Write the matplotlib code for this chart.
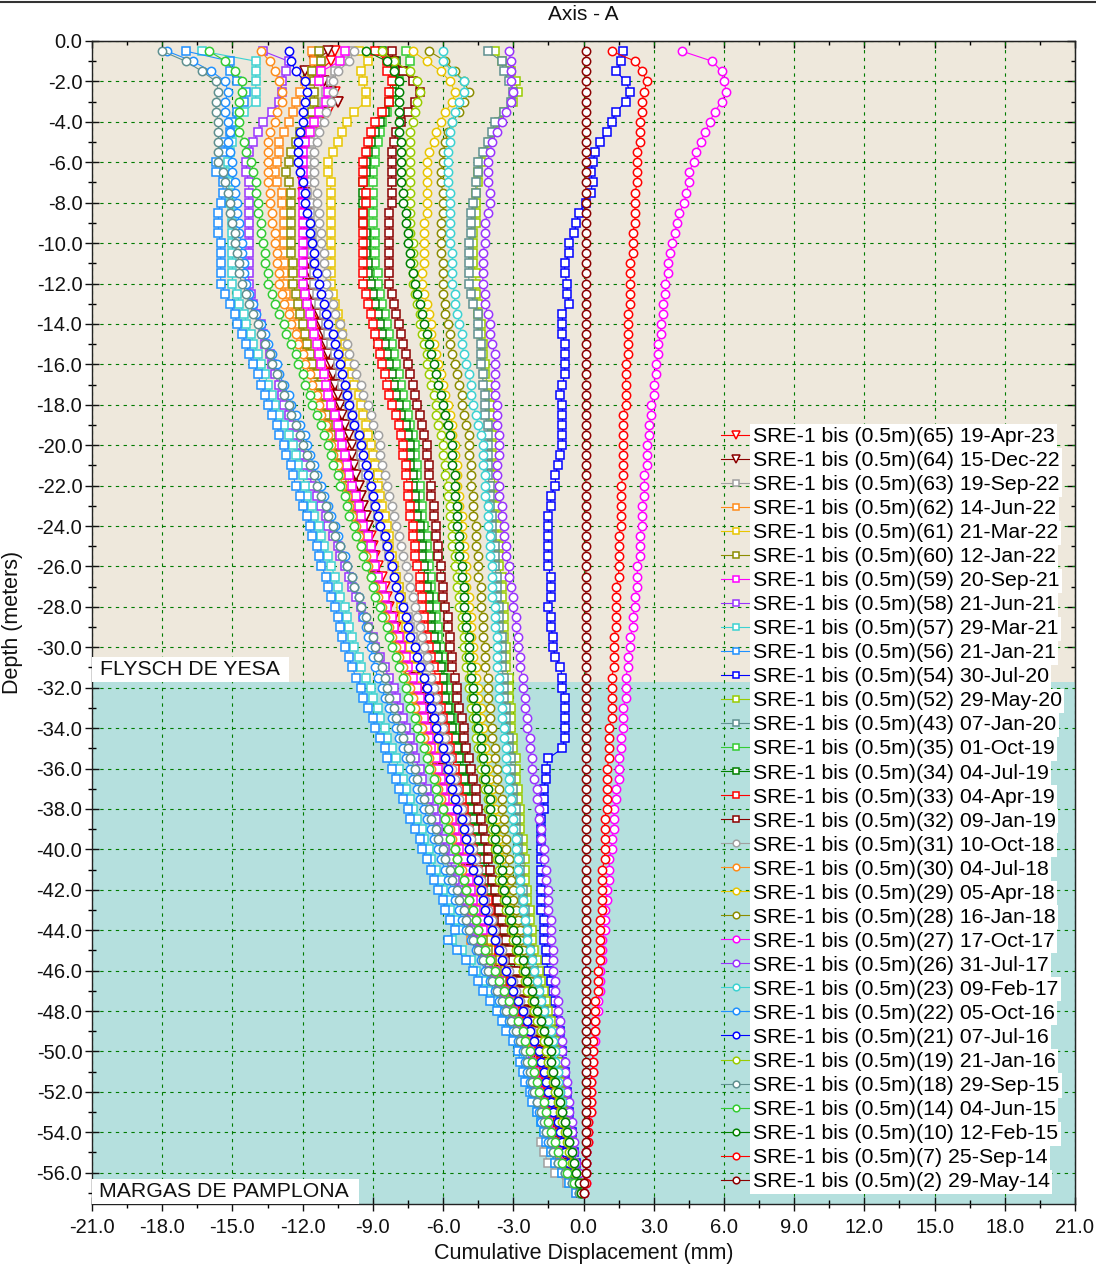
import numpy as np
import matplotlib
matplotlib.use('Agg')
import matplotlib.pyplot as plt
from matplotlib.patches import Rectangle
from matplotlib.lines import Line2D
from matplotlib.ticker import MultipleLocator, FormatStrFormatter

plt.rcParams['font.family'] = ['Liberation Sans', 'DejaVu Sans']

# ---------------- data ----------------
DEPTH = np.arange(-0.5, -57.01, -0.5)  # reading depths (m), 114 readings

S65 = [-10.6,-10.8,-11.3,-11.2,-10.6,-10.5,-10.9,-11.3,-11.6,-11.8,-12.0,-12.0,
       -12.0,-12.0,-12.0,-12.0,-11.9,-11.9,-11.9,-11.8,-11.8,-11.8,-11.7,-11.7,
       -11.6,-11.5,-11.4,-11.3,-11.2,-11.1,-11.0,-10.9,-10.8,-10.7,-10.6,-10.5,-10.4,-10.3,-10.2,-10.1,
       -10.0,-9.9,-9.8,-9.6,-9.5,-9.4,-9.3,-9.2,-9.1,-9.0,-8.9,-8.8,-8.6,-8.5,-8.4,-8.3,-8.1,-8.0,-7.8,-7.7,-7.5,-7.4,-7.2,-7.1,
       -7.0,-6.9,-6.8,-6.6,-6.5,-6.4,-6.3,-6.2,-6.0,-5.9,-5.8,-5.7,-5.6,-5.4,-5.3,-5.2,-5.1,-5.0,-4.8,-4.7,-4.6,-4.5,-4.4,-4.2,
       -4.1,-3.9,-3.7,-3.6,-3.4,-3.2,-3.0,-2.8,-2.7,-2.5,-2.3,-2.1,
       -2.0,-1.9,-1.8,-1.6,-1.5,-1.4,-1.3,-1.1,-1.0,-0.9,-0.7,-0.5,-0.3,-0.1]
S64 = [-10.9,-11.5,-11.9,-11.1,-10.8,-10.5,-11.2,-11.5,-11.7,-11.9,-12.0,-12.0,
       -12.0,-12.0,-11.9,-11.9,-11.8,-11.8,-11.8,-11.7,-11.7,-11.7,-11.7,-11.7,
       -11.6,-11.5,-11.3,-11.2,-11.1,-11.0,-10.9,-10.8,-10.7,-10.6,-10.5,-10.4,-10.3,-10.2,-10.0,-9.9,
       -9.9,-9.8,-9.7,-9.6,-9.5,-9.4,-9.3,-9.2,-9.2,-9.1,-9.0,-9.0,-8.9,-8.8,-8.6,-8.4,-8.3,-8.1,-8.0,-7.8,-7.6,-7.4,-7.2,-7.0,
       -6.9,-6.8,-6.7,-6.6,-6.5,-6.4,-6.2,-6.1,-6.0,-5.9,-5.8,-5.6,-5.5,-5.4,-5.3,-5.2,-5.0,-4.9,-4.8,-4.7,-4.6,-4.4,-4.3,-4.2,
       -4.0,-3.9,-3.7,-3.5,-3.3,-3.2,-3.0,-2.8,-2.7,-2.5,-2.3,-2.1,
       -2.0,-1.9,-1.7,-1.6,-1.5,-1.4,-1.2,-1.1,-1.0,-0.8,-0.7,-0.5,-0.3,-0.1]
S63 = [-9.9,-10.2,-10.6,-10.8,-11.0,-11.1,-11.3,-11.4,-11.6,-11.7,-11.7,-11.8,
       -11.8,-11.8,-11.8,-11.7,-11.7,-11.7,-11.6,-11.6,-11.6,-11.5,-11.5,-11.5,
       -11.4,-11.3,-11.1,-11.0,-10.9,-10.8,-10.6,-10.5,-10.4,-10.3,-10.1,-10.0,-9.9,-9.8,-9.6,-9.5,
       -9.5,-9.4,-9.3,-9.1,-9.0,-8.9,-8.8,-8.7,-8.5,-8.4,-8.3,-8.2,-8.0,-7.9,-7.8,-7.7,-7.5,-7.4,-7.3,-7.2,-7.0,-6.9,-6.8,-6.6,
       -6.5,-6.4,-6.3,-6.2,-6.1,-6.0,-5.9,-5.8,-5.7,-5.5,-5.4,-5.3,-5.2,-5.1,-5.0,-4.9,-4.8,-4.7,-4.6,-4.5,-4.3,-4.2,-4.1,-4.0,
       -4.3,-4.0,-3.7,-3.5,-3.3,-3.1,-3.0,-2.8,-2.6,-2.4,-2.3,-2.1,
       -2.0,-1.9,-1.8,-1.7,-1.6,-1.5,-1.5,-1.4,-1.8,-1.7,-1.5,-1.2,-0.7,-0.3]
S62 = [-11.6,-11.5,-11.6,-11.9,-12.1,-12.3,-12.4,-12.6,-12.8,-13.0,-13.0,-13.1,
       -13.2,-13.1,-12.9,-12.9,-12.8,-12.8,-12.8,-12.8,-12.8,-12.8,-12.8,-12.8,
       -12.7,-12.5,-12.4,-12.2,-12.1,-11.9,-11.8,-11.6,-11.5,-11.3,-11.2,-11.0,-10.9,-10.7,-10.6,-10.5,
       -10.4,-10.3,-10.1,-10.0,-9.9,-9.7,-9.6,-9.5,-9.3,-9.2,-9.1,-9.0,-8.8,-8.7,-8.6,-8.4,-8.3,-8.1,-8.0,-7.8,-7.7,-7.5,-7.4,-7.2,
       -7.1,-7.0,-6.9,-6.8,-6.6,-6.5,-6.4,-6.3,-6.2,-6.1,-5.9,-5.8,-5.7,-5.6,-5.5,-5.4,-5.2,-5.1,-5.0,-4.9,-4.8,-4.7,-4.5,-4.4,
       -4.8,-4.4,-4.1,-3.9,-3.7,-3.5,-3.3,-3.1,-2.9,-2.7,-2.5,-2.2,
       -2.1,-2.0,-1.9,-1.8,-1.7,-1.6,-1.4,-1.3,-1.2,-1.3,-1.0,-0.7,-0.4,-0.1]
S61 = [-9.6,-9.2,-9.5,-9.4,-9.3,-9.3,-9.8,-10.1,-10.3,-10.5,-10.7,-10.9,
       -10.9,-10.8,-10.8,-10.8,-10.8,-10.8,-10.8,-10.8,-10.8,-10.8,-10.8,-10.8,
       -10.7,-10.6,-10.5,-10.4,-10.3,-10.2,-10.1,-10.0,-9.9,-9.8,-9.6,-9.5,-9.4,-9.3,-9.2,-9.1,
       -9.0,-8.9,-8.8,-8.8,-8.7,-8.6,-8.5,-8.4,-8.3,-8.3,-8.2,-8.1,-8.0,-7.9,-7.8,-7.8,-7.7,-7.6,-7.5,-7.4,-7.3,-7.2,-7.1,-7.1,
       -7.0,-6.9,-6.8,-6.6,-6.5,-6.4,-6.3,-6.2,-6.0,-5.9,-5.8,-5.7,-5.6,-5.4,-5.3,-5.2,-5.1,-5.0,-4.8,-4.7,-4.6,-4.5,-4.4,-4.2,
       -4.1,-3.9,-3.7,-3.5,-3.3,-3.2,-3.0,-2.8,-2.6,-2.5,-2.3,-2.1,
       -2.0,-1.9,-1.8,-1.6,-1.5,-1.4,-1.3,-1.1,-1.0,-0.9,-0.7,-0.5,-0.4,-0.2]
S60 = [-11.3,-11.2,-11.6,-11.5,-11.5,-11.5,-11.6,-11.8,-12.1,-12.3,-12.5,-12.6,
       -12.7,-12.6,-12.5,-12.5,-12.5,-12.5,-12.5,-12.5,-12.5,-12.4,-12.4,-12.4,
       -12.3,-12.2,-12.1,-12.0,-11.9,-11.8,-11.7,-11.6,-11.4,-11.3,-11.2,-11.1,-11.0,-10.9,-10.8,-10.6,
       -10.5,-10.4,-10.2,-10.1,-10.0,-9.8,-9.7,-9.6,-9.4,-9.3,-9.2,-9.0,-8.9,-8.8,-8.6,-8.5,-8.4,-8.2,-8.1,-8.0,-7.8,-7.7,-7.5,-7.3,
       -7.2,-7.1,-7.0,-6.8,-6.7,-6.6,-6.5,-6.4,-6.2,-6.1,-6.0,-5.9,-5.8,-5.6,-5.5,-5.4,-5.3,-5.1,-5.0,-4.9,-4.8,-4.7,-4.5,-4.4,
       -4.3,-4.1,-3.9,-3.7,-3.5,-3.3,-3.1,-2.9,-2.7,-2.6,-2.4,-2.2,
       -2.1,-2.0,-1.9,-1.8,-1.6,-1.5,-1.4,-1.3,-1.1,-1.0,-0.8,-0.6,-0.4,-0.1]
S59 = [-10.2,-10.4,-11.2,-11.3,-10.9,-11.0,-11.3,-11.5,-11.7,-11.9,-12.0,-12.0,
       -12.0,-12.0,-12.0,-12.0,-12.0,-12.0,-12.0,-12.0,-12.0,-12.0,-12.0,-12.0,
       -11.9,-11.8,-11.7,-11.6,-11.5,-11.4,-11.3,-11.2,-11.1,-11.0,-10.9,-10.8,-10.6,-10.5,-10.4,-10.3,
       -10.2,-10.1,-10.0,-9.9,-9.7,-9.6,-9.5,-9.4,-9.2,-9.1,-9.0,-8.9,-8.8,-8.6,-8.5,-8.4,-8.2,-8.1,-7.9,-7.8,-7.6,-7.5,-7.3,-7.1,
       -7.0,-6.9,-6.8,-6.7,-6.6,-6.5,-6.3,-6.2,-6.1,-6.0,-5.9,-5.7,-5.6,-5.5,-5.4,-5.3,-5.1,-5.0,-4.9,-4.8,-4.7,-4.6,-4.4,-4.3,
       -4.6,-4.3,-4.0,-3.8,-3.6,-3.4,-3.2,-3.0,-2.8,-2.6,-2.4,-2.2,
       -2.1,-2.0,-1.9,-1.8,-1.6,-1.5,-1.4,-1.2,-1.1,-1.0,-0.8,-0.6,-0.4,-0.1]
S58 = [-13.7,-12.6,-12.7,-12.9,-12.9,-13.0,-13.3,-13.7,-13.9,-14.1,-14.3,-14.4,
       -14.4,-14.3,-14.3,-14.3,-14.3,-14.3,-14.3,-14.3,-14.3,-14.3,-14.3,-14.3,
       -14.2,-14.1,-14.0,-13.8,-13.7,-13.6,-13.4,-13.3,-13.2,-13.0,-12.9,-12.8,-12.6,-12.5,-12.3,-12.2,
       -12.1,-11.9,-11.7,-11.6,-11.4,-11.2,-11.0,-10.9,-10.7,-10.5,-10.4,-10.2,-10.0,-9.9,-9.7,-9.5,-9.4,-9.2,-9.0,-8.9,-8.7,-8.5,-8.3,-8.1,
       -8.0,-7.9,-7.7,-7.6,-7.4,-7.3,-7.2,-7.0,-6.9,-6.7,-6.6,-6.4,-6.3,-6.2,-6.0,-5.9,-5.7,-5.6,-5.5,-5.3,-5.2,-5.0,-4.9,-4.8,
       -4.7,-4.5,-4.3,-4.1,-3.9,-3.6,-3.4,-3.2,-3.0,-2.8,-2.6,-2.4,
       -2.3,-2.2,-2.1,-2.0,-1.9,-1.7,-1.6,-1.5,-1.3,-1.2,-1.0,-0.7,-0.5,-0.2]
S57 = [-16.3,-14.0,-14.0,-14.0,-14.0,-14.0,-14.5,-14.8,-14.9,-15.0,-15.1,-15.2,
       -15.3,-15.2,-15.1,-15.1,-15.0,-15.0,-15.0,-15.0,-15.0,-15.0,-15.0,-15.0,
       -14.8,-14.7,-14.5,-14.4,-14.2,-14.1,-13.9,-13.8,-13.6,-13.5,-13.3,-13.2,-13.0,-12.8,-12.6,-12.4,
       -12.3,-12.2,-12.0,-11.9,-11.8,-11.6,-11.5,-11.3,-11.2,-11.1,-10.9,-10.8,-10.6,-10.5,-10.4,-10.2,-10.1,-10.0,-9.9,-9.8,-9.6,-9.5,-9.3,-9.1,
       -9.0,-8.8,-8.7,-8.5,-8.4,-8.2,-8.0,-7.9,-7.7,-7.6,-7.4,-7.3,-7.1,-6.9,-6.8,-6.6,-6.5,-6.3,-6.1,-6.0,-5.8,-5.7,-5.5,-5.3,
       -5.6,-5.2,-4.8,-4.6,-4.3,-4.1,-3.8,-3.6,-3.4,-3.1,-2.9,-2.7,
       -2.6,-2.5,-2.4,-2.2,-2.1,-2.0,-1.8,-1.7,-1.5,-1.4,-1.2,-0.9,-0.6,-0.2]
S56 = [-17.0,-15.1,-15.1,-14.8,-14.4,-14.5,-14.8,-15.0,-15.1,-15.3,-15.4,-15.7,
       -15.7,-15.4,-15.4,-15.5,-15.6,-15.6,-15.6,-15.5,-15.5,-15.5,-15.5,-15.5,
       -15.3,-15.1,-14.9,-14.8,-14.6,-14.4,-14.3,-14.1,-13.9,-13.8,-13.6,-13.5,-13.3,-13.1,-13.0,-12.8,
       -12.7,-12.5,-12.4,-12.3,-12.1,-12.0,-11.8,-11.7,-11.6,-11.4,-11.3,-11.2,-11.0,-10.9,-10.8,-10.6,-10.5,-10.4,-10.3,-10.2,-10.0,-9.9,-9.7,-9.5,
       -9.4,-9.2,-9.0,-8.9,-8.7,-8.5,-8.4,-8.2,-8.0,-7.9,-7.7,-7.5,-7.4,-7.2,-7.0,-6.9,-6.7,-6.5,-6.4,-6.2,-6.0,-5.9,-5.7,-5.5,
       -5.8,-5.4,-5.0,-4.7,-4.5,-4.3,-4.0,-3.7,-3.5,-3.3,-3.0,-2.8,
       -2.7,-2.6,-2.5,-2.3,-2.2,-2.0,-1.8,-1.7,-1.6,-1.4,-1.2,-0.9,-0.6,-0.3]
S54 = [1.7,1.6,1.4,1.8,2.0,1.8,1.4,1.2,1.0,0.7,0.5,0.4,
       0.3,0.4,0.3,0.1,-0.2,-0.3,-0.4,-0.6,-0.6,-0.8,-0.8,-0.7,
       -0.7,-0.6,-0.9,-0.9,-0.9,-0.8,-0.8,-0.8,-0.8,-0.9,-1.0,-0.9,-0.9,-0.9,-0.9,-0.9,
       -1.0,-1.1,-1.2,-1.2,-1.4,-1.4,-1.5,-1.5,-1.5,-1.5,-1.5,-1.5,-1.4,-1.4,-1.4,-1.5,-1.4,-1.4,-1.3,-1.3,-1.2,-1.0,-0.9,-0.9,
       -0.8,-0.8,-0.8,-0.8,-0.8,-0.9,-1.5,-1.6,-1.6,-1.7,-1.7,-1.7,-1.8,-1.8,-1.8,-1.8,-1.8,-1.8,-1.8,-1.8,-1.8,-1.8,-1.7,-1.7,
       -1.7,-1.6,-1.6,-1.5,-1.4,-1.3,-1.2,-1.2,-1.1,-1.0,-1.0,-0.9,
       -0.9,-0.8,-0.8,-0.7,-0.7,-0.6,-0.6,-0.5,-0.5,-0.4,-0.3,-0.3,-0.2,-0.1]
S52 = [-3.8,-3.5,-3.1,-2.9,-2.8,-3.0,-3.4,-3.6,-3.8,-4.0,-4.2,-4.4,
       -4.5,-4.5,-4.6,-4.6,-4.6,-4.6,-4.7,-4.7,-4.7,-4.7,-4.6,-4.6,
       -4.6,-4.5,-4.5,-4.4,-4.4,-4.3,-4.3,-4.2,-4.2,-4.1,-4.1,-4.0,-4.0,-3.9,-3.9,-3.9,
       -3.9,-3.9,-3.8,-3.8,-3.8,-3.7,-3.7,-3.7,-3.6,-3.6,-3.6,-3.6,-3.5,-3.5,-3.5,-3.4,-3.4,-3.4,-3.4,-3.3,-3.3,-3.3,-3.2,-3.2,
       -3.2,-3.1,-3.1,-3.1,-3.0,-3.0,-2.9,-2.9,-2.9,-2.8,-2.8,-2.7,-2.7,-2.7,-2.6,-2.6,-2.5,-2.5,-2.5,-2.4,-2.4,-2.3,-2.3,-2.2,
       -2.2,-2.1,-2.0,-1.9,-1.8,-1.7,-1.6,-1.5,-1.4,-1.3,-1.2,-1.1,
       -1.1,-1.0,-1.0,-0.9,-0.8,-0.8,-0.7,-0.6,-0.5,-0.5,-0.4,-0.3,-0.2,-0.1]
S43 = [-4.1,-3.5,-3.4,-3.2,-3.0,-3.1,-3.4,-3.8,-3.9,-4.1,-4.3,-4.5,
       -4.5,-4.6,-4.6,-4.7,-4.8,-4.8,-4.8,-4.9,-4.9,-4.9,-4.9,-4.9,
       -4.8,-4.7,-4.5,-4.5,-4.5,-4.4,-4.4,-4.4,-4.3,-4.3,-4.2,-4.2,-4.2,-4.1,-4.1,-4.1,
       -4.1,-4.1,-4.1,-4.0,-4.0,-4.0,-3.9,-3.9,-3.9,-3.8,-3.8,-3.8,-3.7,-3.7,-3.7,-3.6,-3.6,-3.6,-3.5,-3.5,-3.5,-3.5,-3.4,-3.4,
       -3.4,-3.3,-3.3,-3.3,-3.2,-3.2,-3.1,-3.1,-3.1,-3.0,-3.0,-2.9,-2.9,-2.9,-2.8,-2.8,-2.7,-2.7,-2.7,-2.6,-2.6,-2.5,-2.5,-2.4,
       -2.4,-2.3,-2.2,-2.1,-2.0,-1.9,-1.8,-1.7,-1.6,-1.5,-1.4,-1.3,
       -1.3,-1.2,-1.2,-1.1,-1.0,-1.0,-0.9,-0.8,-0.7,-0.6,-0.5,-0.4,-0.3,-0.1]
S35 = [-7.6,-7.4,-7.6,-7.9,-8.1,-8.2,-8.4,-8.6,-8.7,-8.8,-8.9,-8.9,
       -9.0,-9.0,-9.0,-9.0,-9.0,-9.0,-8.9,-8.9,-8.9,-8.9,-8.8,-8.8,
       -8.7,-8.6,-8.5,-8.4,-8.3,-8.2,-8.1,-8.0,-7.9,-7.8,-7.7,-7.6,-7.5,-7.4,-7.3,-7.2,
       -7.2,-7.1,-7.1,-7.0,-7.0,-6.9,-6.9,-6.8,-6.7,-6.7,-6.6,-6.6,-6.5,-6.5,-6.4,-6.3,-6.3,-6.2,-6.2,-6.1,-6.0,-6.0,-5.9,-5.8,
       -5.8,-5.7,-5.6,-5.5,-5.4,-5.3,-5.2,-5.1,-5.0,-4.9,-4.8,-4.7,-4.6,-4.5,-4.4,-4.3,-4.2,-4.1,-4.0,-3.9,-3.8,-3.7,-3.6,-3.5,
       -3.4,-3.3,-3.1,-3.0,-2.8,-2.7,-2.5,-2.4,-2.2,-2.1,-1.9,-1.8,
       -1.7,-1.6,-1.5,-1.4,-1.3,-1.2,-1.1,-1.0,-0.8,-0.7,-0.6,-0.4,-0.3,-0.1]
S34 = [-8.6,-8.0,-8.0,-8.1,-8.2,-8.3,-8.5,-8.7,-8.9,-9.1,-9.2,-9.3,
       -9.3,-9.4,-9.4,-9.4,-9.4,-9.4,-9.3,-9.3,-9.3,-9.2,-9.2,-9.1,
       -9.0,-8.9,-8.8,-8.7,-8.6,-8.5,-8.4,-8.3,-8.2,-8.1,-8.0,-7.9,-7.8,-7.6,-7.5,-7.4,
       -7.4,-7.4,-7.3,-7.3,-7.2,-7.2,-7.1,-7.0,-7.0,-6.9,-6.9,-6.8,-6.8,-6.7,-6.6,-6.6,-6.5,-6.5,-6.4,-6.3,-6.2,-6.1,-6.0,-6.0,
       -5.9,-5.8,-5.7,-5.6,-5.5,-5.4,-5.3,-5.2,-5.1,-5.0,-4.9,-4.8,-4.7,-4.6,-4.5,-4.4,-4.3,-4.2,-4.1,-4.0,-3.9,-3.8,-3.7,-3.6,
       -3.5,-3.4,-3.2,-3.0,-2.9,-2.8,-2.6,-2.5,-2.3,-2.1,-2.0,-1.8,
       -1.7,-1.6,-1.5,-1.4,-1.3,-1.2,-1.1,-1.0,-0.9,-0.7,-0.6,-0.4,-0.3,-0.1]
S33 = [-8.9,-8.4,-8.4,-8.2,-8.3,-8.3,-8.6,-8.9,-9.1,-9.2,-9.3,-9.4,
       -9.4,-9.4,-9.3,-9.3,-9.4,-9.4,-9.4,-9.4,-9.4,-9.4,-9.4,-9.4,
       -9.3,-9.2,-9.1,-9.0,-8.9,-8.8,-8.7,-8.6,-8.5,-8.4,-8.3,-8.2,-8.0,-7.9,-7.8,-7.7,
       -7.7,-7.6,-7.6,-7.5,-7.5,-7.4,-7.4,-7.3,-7.3,-7.2,-7.2,-7.1,-7.0,-7.0,-6.9,-6.9,-6.8,-6.8,-6.7,-6.6,-6.5,-6.4,-6.3,-6.2,
       -6.2,-6.1,-6.0,-5.9,-5.8,-5.7,-5.6,-5.5,-5.4,-5.3,-5.2,-5.1,-5.0,-4.9,-4.8,-4.7,-4.6,-4.5,-4.4,-4.3,-4.1,-4.0,-3.9,-3.8,
       -3.7,-3.6,-3.4,-3.2,-3.1,-2.9,-2.7,-2.6,-2.4,-2.2,-2.0,-1.9,
       -1.8,-1.7,-1.6,-1.5,-1.4,-1.3,-1.1,-1.0,-0.9,-0.7,-0.6,-0.5,-0.3,-0.1]
S32 = [-8.2,-8.1,-7.7,-7.3,-7.0,-7.2,-7.5,-7.8,-8.0,-8.1,-8.2,-8.2,
       -8.2,-8.2,-8.2,-8.2,-8.3,-8.3,-8.3,-8.3,-8.3,-8.3,-8.3,-8.3,
       -8.2,-8.1,-8.0,-7.9,-7.8,-7.7,-7.6,-7.5,-7.4,-7.3,-7.2,-7.1,-7.0,-6.9,-6.8,-6.7,
       -6.7,-6.6,-6.6,-6.5,-6.5,-6.4,-6.4,-6.3,-6.3,-6.2,-6.2,-6.1,-6.1,-6.0,-6.0,-5.9,-5.8,-5.8,-5.7,-5.7,-5.6,-5.6,-5.5,-5.4,
       -5.4,-5.3,-5.2,-5.1,-5.1,-5.0,-4.9,-4.8,-4.7,-4.6,-4.6,-4.5,-4.4,-4.3,-4.2,-4.1,-4.1,-4.0,-3.9,-3.8,-3.7,-3.6,-3.5,-3.4,
       -3.3,-3.2,-3.0,-2.9,-2.7,-2.6,-2.4,-2.3,-2.1,-2.0,-1.8,-1.7,
       -1.6,-1.5,-1.4,-1.3,-1.2,-1.1,-1.0,-0.9,-0.8,-0.7,-0.6,-0.4,-0.3,-0.1]
S31 = [-9.8,-10.0,-10.5,-10.7,-10.7,-10.8,-11.0,-11.1,-11.3,-11.4,-11.5,-11.5,
       -11.5,-11.5,-11.4,-11.4,-11.3,-11.3,-11.2,-11.2,-11.1,-11.1,-11.0,-11.0,
       -10.9,-10.7,-10.6,-10.4,-10.3,-10.1,-10.0,-9.8,-9.7,-9.5,-9.4,-9.2,-9.1,-9.0,-8.8,-8.7,
       -8.7,-8.6,-8.5,-8.4,-8.3,-8.2,-8.1,-8.0,-7.9,-7.8,-7.7,-7.6,-7.5,-7.4,-7.3,-7.2,-7.1,-7.0,-6.9,-6.8,-6.7,-6.6,-6.5,-6.4,
       -6.3,-6.2,-6.1,-6.0,-5.9,-5.8,-5.7,-5.6,-5.5,-5.4,-5.3,-5.2,-5.0,-4.9,-4.8,-4.7,-4.6,-4.5,-4.4,-4.3,-4.2,-4.1,-3.9,-3.8,
       -3.7,-3.5,-3.4,-3.2,-3.0,-2.9,-2.7,-2.5,-2.4,-2.2,-2.1,-1.9,
       -1.8,-1.7,-1.6,-1.5,-1.4,-1.3,-1.1,-1.0,-0.9,-0.8,-0.6,-0.5,-0.3,-0.1]
S30 = [-13.8,-13.4,-13.2,-13.0,-12.9,-12.9,-13.1,-13.2,-13.4,-13.5,-13.5,-13.5,
       -13.5,-13.5,-13.4,-13.4,-13.3,-13.3,-13.2,-13.2,-13.1,-13.1,-13.0,-13.0,
       -12.9,-12.8,-12.6,-12.5,-12.3,-12.2,-12.0,-11.9,-11.7,-11.6,-11.4,-11.3,-11.2,-11.0,-10.9,-10.8,
       -10.7,-10.5,-10.4,-10.3,-10.1,-10.0,-9.9,-9.7,-9.6,-9.5,-9.3,-9.2,-9.1,-8.9,-8.8,-8.6,-8.5,-8.3,-8.2,-8.0,-7.9,-7.7,-7.6,-7.4,
       -7.3,-7.2,-7.1,-6.9,-6.8,-6.7,-6.6,-6.5,-6.3,-6.2,-6.1,-6.0,-5.8,-5.7,-5.6,-5.5,-5.4,-5.2,-5.1,-5.0,-4.9,-4.8,-4.6,-4.5,
       -4.4,-4.2,-4.0,-3.8,-3.6,-3.4,-3.2,-3.0,-2.8,-2.6,-2.4,-2.3,
       -2.2,-2.1,-2.0,-1.9,-1.8,-1.7,-1.5,-1.4,-1.3,-1.1,-0.9,-0.7,-0.4,-0.1]
S29 = [-7.3,-6.7,-6.1,-5.7,-5.5,-5.6,-5.9,-6.1,-6.3,-6.4,-6.6,-6.7,
       -6.7,-6.7,-6.7,-6.7,-6.7,-6.8,-6.8,-6.8,-6.8,-6.8,-6.9,-6.9,
       -6.8,-6.7,-6.6,-6.5,-6.5,-6.4,-6.3,-6.2,-6.1,-6.0,-5.9,-5.8,-5.7,-5.6,-5.6,-5.5,
       -5.5,-5.4,-5.4,-5.4,-5.3,-5.3,-5.2,-5.2,-5.2,-5.1,-5.1,-5.0,-5.0,-5.0,-4.9,-4.9,-4.8,-4.8,-4.8,-4.7,-4.7,-4.6,-4.6,-4.5,
       -4.5,-4.4,-4.4,-4.3,-4.3,-4.2,-4.1,-4.1,-4.0,-3.9,-3.9,-3.8,-3.7,-3.7,-3.6,-3.5,-3.5,-3.4,-3.3,-3.3,-3.2,-3.1,-3.0,-2.9,
       -2.9,-2.8,-2.7,-2.6,-2.4,-2.3,-2.2,-2.1,-1.9,-1.8,-1.7,-1.5,
       -1.5,-1.4,-1.3,-1.2,-1.1,-1.0,-0.9,-0.8,-0.7,-0.6,-0.5,-0.4,-0.2,-0.1]
S28 = [-6.6,-5.9,-5.5,-5.1,-4.9,-5.1,-5.3,-5.6,-5.8,-5.9,-6.0,-6.0,
       -6.1,-6.1,-6.0,-6.0,-6.0,-6.1,-6.1,-6.1,-6.1,-6.0,-6.0,-6.0,
       -6.0,-5.9,-5.9,-5.8,-5.7,-5.7,-5.6,-5.5,-5.4,-5.3,-5.2,-5.2,-5.1,-5.0,-4.9,-4.9,
       -4.9,-4.8,-4.8,-4.8,-4.7,-4.7,-4.7,-4.6,-4.6,-4.6,-4.5,-4.5,-4.5,-4.4,-4.4,-4.4,-4.3,-4.3,-4.3,-4.2,-4.2,-4.2,-4.1,-4.1,
       -4.1,-4.0,-4.0,-3.9,-3.9,-3.8,-3.8,-3.7,-3.7,-3.6,-3.5,-3.5,-3.4,-3.4,-3.3,-3.3,-3.2,-3.2,-3.1,-3.0,-3.0,-2.9,-2.8,-2.7,
       -2.7,-2.6,-2.5,-2.4,-2.3,-2.2,-2.0,-1.9,-1.8,-1.6,-1.5,-1.4,
       -1.4,-1.3,-1.2,-1.1,-1.0,-1.0,-0.9,-0.8,-0.7,-0.6,-0.5,-0.4,-0.2,-0.1]
S27 = [4.2,5.5,5.9,6.0,6.1,5.9,5.6,5.4,5.2,5.0,4.8,4.7,
       4.5,4.5,4.4,4.3,4.1,4.0,3.9,3.8,3.7,3.6,3.6,3.5,
       3.5,3.4,3.4,3.3,3.3,3.2,3.2,3.1,3.1,3.0,3.0,2.9,2.9,2.8,2.8,2.7,
       2.7,2.7,2.6,2.6,2.6,2.5,2.5,2.5,2.4,2.4,2.4,2.3,2.3,2.3,2.2,2.2,2.1,2.1,2.0,2.0,1.9,1.9,1.8,1.8,
       1.8,1.7,1.7,1.7,1.6,1.6,1.5,1.5,1.5,1.4,1.4,1.3,1.3,1.3,1.2,1.2,1.1,1.1,1.1,1.0,1.0,0.9,0.9,0.9,
       0.8,0.8,0.8,0.7,0.7,0.7,0.6,0.6,0.5,0.5,0.5,0.4,
       0.4,0.4,0.3,0.3,0.3,0.3,0.2,0.2,0.2,0.1,0.1,0.1,0.1,0.0]
S26 = [-3.2,-3.1,-3.1,-3.1,-3.0,-3.1,-3.3,-3.5,-3.7,-3.9,-4.0,-4.1,
       -4.1,-4.1,-4.0,-4.0,-4.1,-4.2,-4.2,-4.2,-4.3,-4.3,-4.3,-4.3,
       -4.2,-4.2,-4.1,-4.0,-4.0,-3.9,-3.8,-3.8,-3.8,-3.8,-3.8,-3.7,-3.7,-3.7,-3.6,-3.6,
       -3.6,-3.7,-3.7,-3.6,-3.6,-3.5,-3.5,-3.4,-3.4,-3.3,-3.3,-3.2,-3.2,-3.1,-3.0,-3.0,-2.9,-2.9,-2.8,-2.8,-2.7,-2.7,-2.6,-2.6,
       -2.5,-2.5,-2.4,-2.4,-2.3,-2.3,-2.2,-2.2,-2.1,-2.0,-2.0,-1.9,-1.9,-1.8,-1.8,-1.7,-1.7,-1.6,-1.6,-1.5,-1.5,-1.5,-1.4,-1.4,
       -1.4,-1.3,-1.3,-1.3,-1.2,-1.2,-1.1,-1.1,-1.0,-1.0,-0.9,-0.9,
       -0.8,-0.8,-0.7,-0.7,-0.6,-0.6,-0.5,-0.5,-0.4,-0.4,-0.3,-0.2,-0.2,-0.1]
S23 = [-6.0,-6.0,-5.6,-5.1,-5.1,-5.3,-5.5,-5.6,-5.7,-5.7,-5.8,-5.8,
       -5.8,-5.8,-5.7,-5.7,-5.7,-5.7,-5.7,-5.7,-5.6,-5.6,-5.6,-5.6,
       -5.5,-5.5,-5.4,-5.3,-5.2,-5.2,-5.1,-5.0,-4.9,-4.8,-4.8,-4.7,-4.6,-4.5,-4.4,-4.3,
       -4.3,-4.3,-4.2,-4.2,-4.2,-4.1,-4.1,-4.1,-4.0,-4.0,-4.0,-3.9,-3.9,-3.9,-3.9,-3.8,-3.8,-3.8,-3.7,-3.7,-3.7,-3.7,-3.6,-3.6,
       -3.6,-3.5,-3.5,-3.4,-3.4,-3.3,-3.3,-3.3,-3.2,-3.2,-3.1,-3.1,-3.0,-3.0,-2.9,-2.9,-2.8,-2.8,-2.7,-2.7,-2.6,-2.6,-2.5,-2.4,
       -2.4,-2.3,-2.2,-2.1,-2.0,-1.9,-1.8,-1.7,-1.5,-1.4,-1.3,-1.2,
       -1.2,-1.1,-1.1,-1.0,-0.9,-0.9,-0.8,-0.7,-0.6,-0.5,-0.4,-0.3,-0.2,-0.1]
S22 = [-17.8,-16.7,-15.9,-15.3,-15.2,-15.3,-15.3,-15.2,-15.1,-15.2,-15.1,-15.0,
       -15.0,-14.9,-14.9,-14.8,-14.8,-14.7,-14.7,-14.6,-14.6,-14.5,-14.5,-14.4,
       -14.3,-14.1,-14.0,-13.8,-13.6,-13.5,-13.3,-13.1,-13.0,-12.8,-12.6,-12.5,-12.3,-12.1,-11.9,-11.8,
       -11.7,-11.5,-11.4,-11.2,-11.1,-10.9,-10.8,-10.6,-10.5,-10.4,-10.2,-10.1,-9.9,-9.8,-9.6,-9.5,-9.4,-9.3,-9.2,-9.1,-9.0,-8.9,-8.8,-8.6,
       -8.5,-8.3,-8.2,-8.0,-7.9,-7.7,-7.6,-7.4,-7.3,-7.1,-7.0,-6.8,-6.7,-6.5,-6.4,-6.2,-6.1,-5.9,-5.8,-5.6,-5.5,-5.3,-5.2,-5.0,
       -4.8,-4.6,-4.4,-4.2,-4.0,-3.8,-3.6,-3.4,-3.2,-3.0,-2.8,-2.6,
       -2.5,-2.4,-2.3,-2.2,-2.0,-1.9,-1.8,-1.6,-1.5,-1.3,-1.1,-0.8,-0.5,-0.2]
S21 = [-12.6,-12.5,-12.3,-11.9,-11.8,-11.9,-12.0,-12.0,-12.1,-12.2,-12.2,-12.2,
       -12.1,-12.0,-11.9,-11.9,-11.8,-11.7,-11.7,-11.6,-11.5,-11.5,-11.4,-11.3,
       -11.2,-11.1,-11.0,-10.9,-10.7,-10.6,-10.5,-10.4,-10.3,-10.2,-10.1,-10.0,-9.9,-9.8,-9.6,-9.5,
       -9.4,-9.3,-9.2,-9.1,-9.0,-8.9,-8.8,-8.7,-8.5,-8.4,-8.3,-8.2,-8.1,-8.0,-7.9,-7.7,-7.6,-7.5,-7.4,-7.2,-7.1,-7.0,-6.8,-6.7,
       -6.6,-6.5,-6.4,-6.3,-6.2,-6.0,-5.9,-5.8,-5.7,-5.6,-5.5,-5.4,-5.2,-5.1,-5.0,-4.9,-4.8,-4.7,-4.5,-4.4,-4.3,-4.2,-4.1,-3.9,
       -3.8,-3.6,-3.5,-3.3,-3.1,-3.0,-2.8,-2.6,-2.4,-2.3,-2.1,-1.9,
       -1.8,-1.7,-1.6,-1.5,-1.4,-1.3,-1.1,-1.0,-0.9,-0.8,-0.6,-0.5,-0.3,-0.1]
S19 = [-8.6,-8.1,-7.4,-7.1,-7.0,-7.1,-7.2,-7.3,-7.4,-7.4,-7.4,-7.4,
       -7.4,-7.4,-7.4,-7.4,-7.4,-7.4,-7.4,-7.3,-7.3,-7.3,-7.3,-7.3,
       -7.2,-7.1,-7.0,-7.0,-6.9,-6.8,-6.7,-6.7,-6.6,-6.5,-6.4,-6.3,-6.3,-6.2,-6.1,-6.0,
       -6.0,-5.9,-5.9,-5.8,-5.8,-5.7,-5.7,-5.6,-5.6,-5.6,-5.5,-5.5,-5.4,-5.4,-5.3,-5.3,-5.2,-5.2,-5.1,-5.1,-5.0,-5.0,-4.9,-4.9,
       -4.8,-4.8,-4.7,-4.6,-4.6,-4.5,-4.4,-4.4,-4.3,-4.2,-4.1,-4.1,-4.0,-3.9,-3.9,-3.8,-3.7,-3.6,-3.6,-3.5,-3.4,-3.3,-3.2,-3.1,
       -3.0,-2.9,-2.8,-2.6,-2.5,-2.4,-2.2,-2.1,-2.0,-1.8,-1.7,-1.6,
       -1.5,-1.4,-1.3,-1.2,-1.1,-1.0,-0.9,-0.8,-0.7,-0.6,-0.5,-0.4,-0.2,-0.1]
S18 = [-18.0,-17.0,-16.3,-15.7,-15.6,-15.7,-15.7,-15.6,-15.6,-15.6,-15.6,-15.6,
       -15.4,-15.3,-15.2,-15.1,-15.1,-15.0,-14.9,-14.9,-14.8,-14.7,-14.7,-14.6,
       -14.4,-14.3,-14.1,-13.9,-13.8,-13.6,-13.4,-13.3,-13.1,-12.9,-12.8,-12.6,-12.5,-12.3,-12.1,-12.0,
       -11.8,-11.7,-11.5,-11.4,-11.2,-11.0,-10.9,-10.7,-10.6,-10.4,-10.3,-10.1,-9.9,-9.8,-9.6,-9.5,-9.3,-9.2,-9.0,-8.9,-8.8,-8.6,-8.5,-8.4,
       -8.3,-8.1,-8.0,-7.8,-7.7,-7.5,-7.4,-7.2,-7.1,-6.9,-6.8,-6.6,-6.5,-6.3,-6.2,-6.0,-5.9,-5.7,-5.6,-5.4,-5.3,-5.1,-5.0,-4.9,
       -4.7,-4.5,-4.3,-4.1,-3.9,-3.7,-3.5,-3.3,-3.1,-2.9,-2.7,-2.5,
       -2.4,-2.3,-2.2,-2.1,-2.0,-1.8,-1.7,-1.6,-1.4,-1.3,-1.1,-0.8,-0.5,-0.2]
S14 = [-16.0,-15.3,-14.9,-14.6,-14.6,-14.7,-14.7,-14.7,-14.7,-14.5,-14.4,-14.2,
       -14.1,-14.0,-14.0,-13.9,-13.9,-13.8,-13.8,-13.7,-13.6,-13.6,-13.5,-13.5,
       -13.3,-13.2,-13.0,-12.8,-12.7,-12.5,-12.3,-12.2,-12.0,-11.9,-11.7,-11.6,-11.4,-11.2,-11.1,-10.9,
       -10.8,-10.7,-10.5,-10.4,-10.2,-10.1,-10.0,-9.8,-9.7,-9.5,-9.4,-9.3,-9.1,-9.0,-8.9,-8.7,-8.6,-8.4,-8.3,-8.2,-8.0,-7.9,-7.7,-7.6,
       -7.5,-7.4,-7.2,-7.1,-7.0,-6.8,-6.7,-6.6,-6.4,-6.3,-6.2,-6.0,-5.9,-5.8,-5.7,-5.5,-5.4,-5.3,-5.1,-5.0,-4.9,-4.7,-4.6,-4.5,
       -4.4,-4.2,-4.0,-3.8,-3.6,-3.4,-3.2,-3.0,-2.8,-2.6,-2.5,-2.3,
       -2.2,-2.1,-2.0,-1.9,-1.7,-1.6,-1.5,-1.4,-1.2,-1.1,-0.9,-0.7,-0.4,-0.1]
S10 = [-9.3,-8.4,-8.1,-7.9,-7.9,-7.9,-7.9,-7.9,-7.9,-7.8,-7.8,-7.8,
       -7.8,-7.8,-7.7,-7.7,-7.6,-7.6,-7.5,-7.5,-7.4,-7.4,-7.3,-7.2,
       -7.1,-7.0,-6.9,-6.8,-6.7,-6.6,-6.5,-6.4,-6.3,-6.2,-6.1,-6.0,-5.9,-5.8,-5.7,-5.6,
       -5.6,-5.6,-5.5,-5.5,-5.5,-5.4,-5.4,-5.4,-5.3,-5.3,-5.3,-5.2,-5.2,-5.1,-5.1,-5.1,-5.0,-5.0,-4.9,-4.9,-4.9,-4.8,-4.8,-4.7,
       -4.7,-4.6,-4.6,-4.5,-4.4,-4.4,-4.3,-4.2,-4.2,-4.1,-4.0,-4.0,-3.9,-3.8,-3.8,-3.7,-3.6,-3.5,-3.5,-3.4,-3.3,-3.2,-3.1,-3.0,
       -2.9,-2.8,-2.6,-2.5,-2.4,-2.2,-2.1,-2.0,-1.8,-1.7,-1.5,-1.4,
       -1.4,-1.3,-1.2,-1.1,-1.0,-0.9,-0.8,-0.7,-0.6,-0.5,-0.4,-0.3,-0.2,-0.1]
S7 = [1.2,2.2,2.5,2.7,2.6,2.5,2.5,2.4,2.4,2.4,2.3,2.3,
      2.3,2.3,2.2,2.2,2.2,2.2,2.1,2.1,2.1,2.0,2.0,2.0,
      2.0,2.0,1.9,1.9,1.9,1.9,1.9,1.8,1.8,1.8,1.8,1.8,1.7,1.7,1.7,1.7,
      1.7,1.7,1.7,1.6,1.6,1.6,1.6,1.6,1.5,1.5,1.5,1.5,1.5,1.4,1.4,1.4,1.4,1.4,1.3,1.3,1.3,1.3,1.2,1.2,
      1.2,1.2,1.2,1.1,1.1,1.1,1.1,1.0,1.0,1.0,1.0,1.0,0.9,0.9,0.9,0.9,0.9,0.8,0.8,0.8,0.8,0.8,0.7,0.7,
      0.7,0.7,0.7,0.6,0.6,0.6,0.5,0.5,0.5,0.5,0.4,0.4,
      0.4,0.4,0.3,0.3,0.3,0.3,0.2,0.2,0.2,0.1,0.1,0.1,0.1,0.0]
S2 = [0.1,0.1,0.1,0.1,0.1,0.1,0.1,0.1,0.1,0.1,0.1,0.1,
      0.1,0.1,0.1,0.1,0.1,0.1,0.1,0.1,0.1,0.1,0.1,0.1,
      0.1,0.1,0.1,0.1,0.1,0.1,0.1,0.1,0.1,0.1,0.1,0.1,0.1,0.1,0.1,0.1,
      0.1,0.1,0.1,0.1,0.1,0.1,0.1,0.1,0.1,0.1,0.1,0.1,0.1,0.1,0.1,0.1,0.1,0.1,0.1,0.1,0.1,0.1,0.1,0.1,
      0.1,0.1,0.1,0.1,0.1,0.1,0.1,0.1,0.1,0.1,0.1,0.1,0.1,0.1,0.1,0.1,0.1,0.1,0.1,0.1,0.1,0.1,0.1,0.1,
      0.1,0.1,0.1,0.1,0.1,0.1,0.1,0.1,0.1,0.1,0.1,0.1,
      0.1,0.1,0.1,0.1,0.1,0.1,0.1,0.1,0.1,0.1,0.1,0.1,0.0,0.0]

SERIES = [S65, S64, S63, S62, S61, S60, S59, S58, S57, S56, S54, S52, S43, S35, S34, S33,
          S32, S31, S30, S29, S28, S27, S26, S23, S22, S21, S19, S18, S14, S10, S7, S2]

LABELS = ["SRE-1 bis (0.5m)(65) 19-Apr-23", "SRE-1 bis (0.5m)(64) 15-Dec-22",
          "SRE-1 bis (0.5m)(63) 19-Sep-22", "SRE-1 bis (0.5m)(62) 14-Jun-22",
          "SRE-1 bis (0.5m)(61) 21-Mar-22", "SRE-1 bis (0.5m)(60) 12-Jan-22",
          "SRE-1 bis (0.5m)(59) 20-Sep-21", "SRE-1 bis (0.5m)(58) 21-Jun-21",
          "SRE-1 bis (0.5m)(57) 29-Mar-21", "SRE-1 bis (0.5m)(56) 21-Jan-21",
          "SRE-1 bis (0.5m)(54) 30-Jul-20", "SRE-1 bis (0.5m)(52) 29-May-20",
          "SRE-1 bis (0.5m)(43) 07-Jan-20", "SRE-1 bis (0.5m)(35) 01-Oct-19",
          "SRE-1 bis (0.5m)(34) 04-Jul-19", "SRE-1 bis (0.5m)(33) 04-Apr-19",
          "SRE-1 bis (0.5m)(32) 09-Jan-19", "SRE-1 bis (0.5m)(31) 10-Oct-18",
          "SRE-1 bis (0.5m)(30) 04-Jul-18", "SRE-1 bis (0.5m)(29) 05-Apr-18",
          "SRE-1 bis (0.5m)(28) 16-Jan-18", "SRE-1 bis (0.5m)(27) 17-Oct-17",
          "SRE-1 bis (0.5m)(26) 31-Jul-17", "SRE-1 bis (0.5m)(23) 09-Feb-17",
          "SRE-1 bis (0.5m)(22) 05-Oct-16", "SRE-1 bis (0.5m)(21) 07-Jul-16",
          "SRE-1 bis (0.5m)(19) 21-Jan-16", "SRE-1 bis (0.5m)(18) 29-Sep-15",
          "SRE-1 bis (0.5m)(14) 04-Jun-15", "SRE-1 bis (0.5m)(10) 12-Feb-15",
          "SRE-1 bis (0.5m)(7) 25-Sep-14", "SRE-1 bis (0.5m)(2) 29-May-14"]

FORMATION_BOUNDARY = -31.7

# ---------------- styles ----------------
RED, DRED, GRAY, ORANGE = '#FF0000', '#8B0000', '#A0A0A0', '#FF8C1A'
GOLD, OLIVE, MAG, PURP = '#E8C500', '#8C8C00', '#FF00FF', '#9933FF'
TURQ, DODG, BLUE, YG = '#3CD2D2', '#1E90FF', '#0000FF', '#99CC00'
CADET, LIME, GREEN = '#5F9090', '#33CC33', '#008000'
COLORS = [RED, DRED, GRAY, ORANGE, GOLD, OLIVE, MAG, PURP, TURQ, DODG, BLUE, YG, CADET, LIME, GREEN, RED,
          DRED, GRAY, ORANGE, GOLD, OLIVE, MAG, PURP, TURQ, DODG, BLUE, YG, CADET, LIME, GREEN, RED, DRED]
MARKERS = ['v', 'v'] + ['s'] * 15 + ['o'] * 15

BG_TOP = '#EEE8DC'
BG_BOT = '#B5E0DE'

W, H = 1096, 1271
fig = plt.figure(figsize=(W / 100, H / 100), dpi=100)
L, R, T, B = 92, 1075, 41, 1204
ax = fig.add_axes([L / W, 1 - B / H, (R - L) / W, (B - T) / H])
ax.set_facecolor(BG_TOP)
ax.set_xlim(-21, 21)
ax.set_ylim(-57.55, 0)
ax.axhspan(-57.55, FORMATION_BOUNDARY, color=BG_BOT, zorder=0.1, lw=0)

ax.set_axisbelow(True)
ax.grid(True, which='major', color='#007A00', linestyle=(0, (3, 4)), linewidth=0.8)

bad = []
handles = []
for vals, lab, col, mk in zip(SERIES, LABELS, COLORS, MARKERS):
    n = min(len(DEPTH), len(vals))
    if len(vals) != len(DEPTH):
        bad.append(f"{lab[17:21]}:{len(vals)}")
    ms = 7.0 if mk == 'v' else (6.0 if mk == 's' else 6.0)
    h, = ax.plot(vals[:n], DEPTH[:n], color=col, lw=0.8, marker=mk, ms=ms,
                 mfc='white', mec=col, mew=1.1, label=lab, zorder=2)
    handles.append(h)
if bad:
    fig.text(0.5, 0.5, "LEN MISMATCH " + " ".join(bad), color='red', fontsize=20, ha='center')

# ticks
ax.xaxis.set_major_locator(MultipleLocator(3))
ax.xaxis.set_minor_locator(MultipleLocator(1.5))
ax.yaxis.set_major_locator(MultipleLocator(2))
ax.yaxis.set_minor_locator(MultipleLocator(1))
ax.xaxis.set_major_formatter(FormatStrFormatter('%.1f'))
ax.yaxis.set_major_formatter(FormatStrFormatter('%.1f'))
ax.tick_params(axis='both', which='major', direction='inout', length=10, width=1.0,
               labelsize=14.5, colors='#111111')
ax.tick_params(axis='both', which='minor', direction='inout', length=6, width=1.0)
ax.tick_params(axis='y', which='major', pad=2)
ax.tick_params(axis='x', which='major', pad=5)

secx = ax.secondary_xaxis('top')
secx.xaxis.set_major_locator(MultipleLocator(3))
secx.xaxis.set_minor_locator(MultipleLocator(1.5))
secx.tick_params(axis='x', which='major', direction='in', length=5, width=1.0, labeltop=False)
secx.tick_params(axis='x', which='minor', direction='in', length=3, width=1.0)
secy = ax.secondary_yaxis('right')
secy.yaxis.set_major_locator(MultipleLocator(2))
secy.yaxis.set_minor_locator(MultipleLocator(1))
secy.tick_params(axis='y', which='major', direction='in', length=6, width=1.0, labelright=False)
secy.tick_params(axis='y', which='minor', direction='in', length=3, width=1.0)

for sp in list(ax.spines.values()):
    sp.set_linewidth(1.0)
    sp.set_color('#222222')

# formation labels
ax.add_patch(Rectangle((-21, FORMATION_BOUNDARY), 8.415, 1.22, facecolor='white',
                       edgecolor='none', zorder=4))
ax.text(-20.66, FORMATION_BOUNDARY + 0.62, 'FLYSCH DE YESA', fontsize=15.3,
        ha='left', va='center', zorder=5, color='#111111')
ax.add_patch(Rectangle((-21, -57.55), 11.41, 1.24, facecolor='white',
                       edgecolor='none', zorder=4))
ax.text(-20.7, -56.93, 'MARGAS DE PAMPLONA', fontsize=15.3,
        ha='left', va='center', zorder=5, color='#111111')

# legend
leg = ax.legend(handles=handles, loc='upper left',
                bbox_to_anchor=(721 / W, 1 - 427 / H), bbox_transform=fig.transFigure,
                frameon=False, fontsize=15.3, labelspacing=0.237, handlelength=1.4,
                handletextpad=0.1, borderpad=0, borderaxespad=0, markerscale=0.8,
                numpoints=1)
leg.set_zorder(6)
for t in leg.get_texts():
    t.set_bbox(dict(facecolor='white', edgecolor='none', pad=1.9))

# titles / labels
fig.text(583.5 / W, 1 - 15 / H, 'Axis - A', ha='center', va='center', fontsize=15, color='#111111')
fig.text(583.5 / W, 1 - 1254 / H, 'Cumulative Displacement (mm)', ha='center', va='center',
         fontsize=15.5, color='#111111')
fig.text(13 / W, 1 - 622 / H, 'Depth (meters)', ha='center', va='center', rotation=90,
         fontsize=15.5, color='#111111')
fig.add_artist(Line2D([0, 1], [1 - 2 / H, 1 - 2 / H], transform=fig.transFigure,
                      color='#333333', lw=1.5))

fig.savefig('out.png', dpi=100, facecolor='white')
